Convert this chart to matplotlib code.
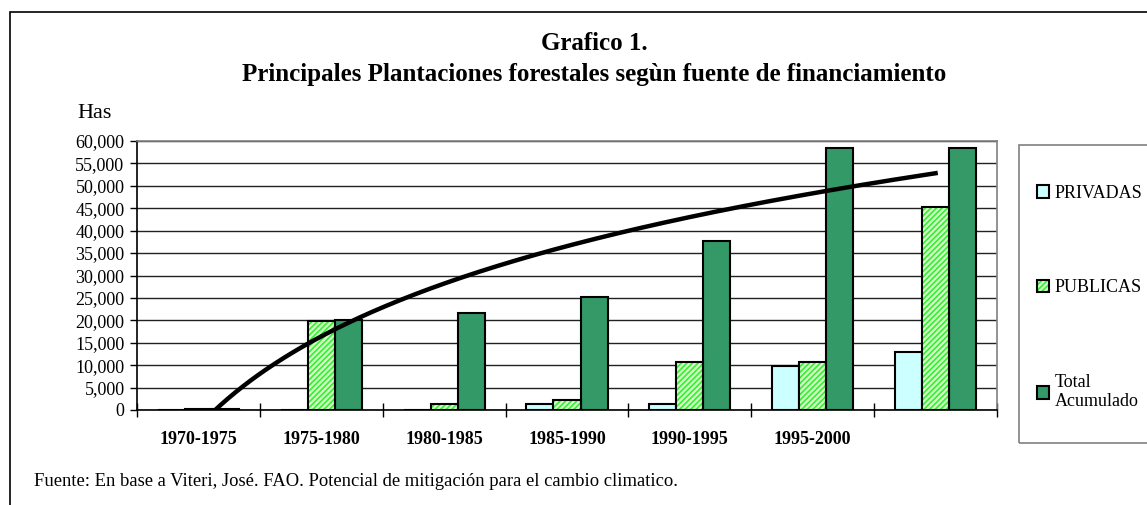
import numpy as np
import matplotlib
matplotlib.use("Agg")
import matplotlib.pyplot as plt
from matplotlib.patches import Rectangle
from matplotlib.ticker import FuncFormatter, FixedLocator
from matplotlib.legend_handler import HandlerTuple

plt.rcParams['font.family'] = ['Liberation Serif', 'DejaVu Serif']
plt.rcParams['hatch.linewidth'] = 1.2

categories = ['1970-1975', '1975-1980', '1980-1985', '1985-1990', '1990-1995', '1995-2000', '']
privadas = [0, 0, 0, 1350, 1350, 9900, 12900]
publicas = [150, 19750, 1400, 2250, 10800, 10650, 45300]
total = [150, 20100, 21600, 25300, 37800, 58350, 58350]

W, H = 1147, 505
fig = plt.figure(figsize=(W / 100, H / 100), dpi=100)

# outer border of chart
fig.patches.append(Rectangle((10 / W, -0.2), 1.2, (H - 12) / H + 0.2,
                             transform=fig.transFigure, fill=False,
                             edgecolor='black', linewidth=1.2))
# legend frame
fig.patches.append(Rectangle((1019 / W, (H - 443) / H), 1.0, (443 - 145) / H,
                             transform=fig.transFigure, fill=False,
                             edgecolor='#808080', linewidth=1.2))

ax = fig.add_axes([137 / W, (H - 410) / H, (997 - 137) / W, (410 - 141) / H])

x = np.arange(len(categories))
bw = 0.22
b1 = ax.bar(x - bw, privadas, bw, color='#ccffff', edgecolor='black', linewidth=1.5,
            zorder=3)
b2h = ax.bar(x, publicas, bw, color='#d4ffc4', edgecolor='#33ee33', linewidth=0,
             hatch='//////', zorder=3)
b2o = ax.bar(x, publicas, bw, fill=False, edgecolor='black', linewidth=1.5,
             zorder=3.1)
b3 = ax.bar(x + bw, total, bw, color='#339966', edgecolor='black', linewidth=1.5,
            zorder=3)

# logarithmic trendline of Total Acumulado (least squares, as in the original)
xi = x + 1.0
a, b = np.polyfit(np.log(xi), np.array(total, dtype=float), 1)
xs = np.linspace(1, len(categories), 300)
ax.plot(xs - 1, a * np.log(xs) + b, color='black', linewidth=3.2, zorder=4)

ax.set_xlim(-0.5, len(categories) - 0.5)
ax.set_ylim(0, 60000)
ax.yaxis.set_major_locator(FixedLocator(np.arange(0, 60001, 5000)))
ax.yaxis.set_major_formatter(FuncFormatter(lambda v, p: f'{int(v):,}'))
ax.grid(axis='y', color='#222222', linewidth=1.0, zorder=0)
ax.set_axisbelow(True)

ax.set_xticks(np.arange(-0.5, len(categories), 1.0))
ax.set_xticklabels([])
ax.set_xticks(x, minor=True)
ax.set_xticklabels(categories, minor=True, fontweight='bold', fontsize=13)
ax.tick_params(axis='x', which='minor', length=0, pad=15)
ax.tick_params(axis='x', which='major', direction='inout', length=10, width=1)
ax.tick_params(axis='y', direction='out', length=5, width=1, labelsize=13, pad=4)

for s in ['top', 'right']:
    ax.spines[s].set_color('#808080')
    ax.spines[s].set_linewidth(1.2)
for s in ['left', 'bottom']:
    ax.spines[s].set_color('black')
    ax.spines[s].set_linewidth(1.2)

fig.text(594 / W, 1 - 43 / H, 'Grafico 1.', ha='center', va='center',
         fontsize=18, fontweight='bold')
fig.text(594 / W, 1 - 74 / H,
         'Principales Plantaciones forestales segùn fuente de financiamiento',
         ha='center', va='center', fontsize=18, fontweight='bold')
fig.text(77 / W, 1 - 113 / H, 'Has', ha='left', va='center', fontsize=16)
fig.text(34 / W, 1 - 482 / H,
         'Fuente: En base a Viteri, José. FAO. Potencial de mitigación para el cambio climatico.',
         ha='left', va='center', fontsize=13.4)

leg = ax.legend([b1, (b2h, b2o), b3], ['PRIVADAS', 'PUBLICAS', 'Total\nAcumulado'],
                handler_map={tuple: HandlerTuple(ndivide=1, pad=0)},
                loc='upper left', bbox_to_anchor=(1033 / W, 1 - 181 / H),
                bbox_transform=fig.transFigure, frameon=False,
                fontsize=13, handlelength=0.7, handleheight=0.7,
                handletextpad=0.3, labelspacing=4.3,
                borderpad=0.2, borderaxespad=0)

fig.savefig('out.png', dpi=100)
